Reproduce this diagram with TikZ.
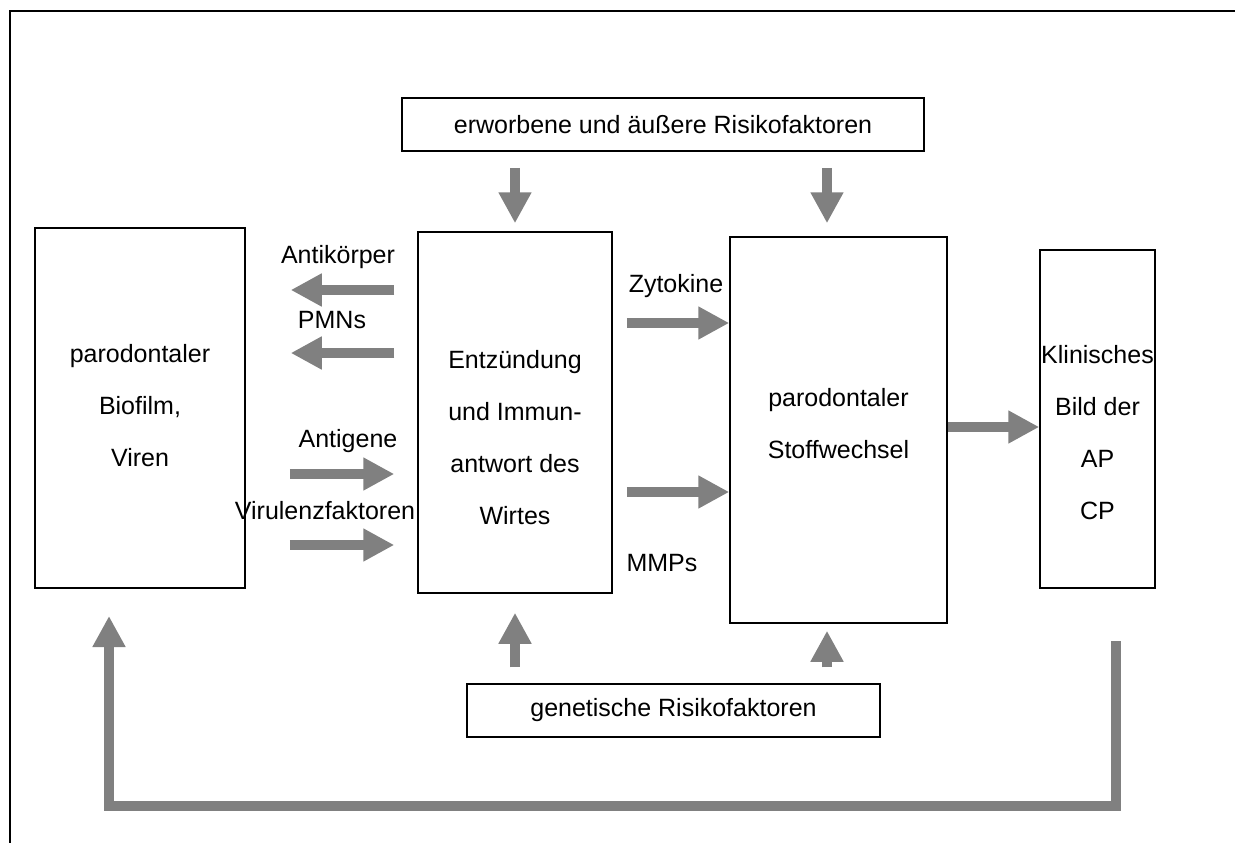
\documentclass[tikz,border=0pt]{standalone}
\usepackage{fontspec}
\setmainfont{Liberation Sans}
\usetikzlibrary{arrows.meta}

\tikzset{
  box/.style={draw, line width=1.5pt, inner sep=0pt, align=center},
  fat/.style={draw=gray, line width=10pt, line join=miter, -{Triangle[width=31pt,length=31pt]}},
  lbl/.style={inner sep=0pt, align=center},
}

\begin{document}
\begin{tikzpicture}[x=1pt, y=-1pt, font=\fontsize{25}{52}\selectfont]
	\useasboundingbox (0,0) rectangle (1235,843);
	\draw[line width=2pt] (1235,11) -- (10,11) -- (10,843);

	% Kaesten
	\node[box, minimum width=210pt, minimum height=360pt] (bio) at (140,408) {};
	\node[box, minimum width=194pt, minimum height=361pt] (entz) at (515,412.5) {};
	\node[box, minimum width=217pt, minimum height=386pt] (stoff) at (838.5,430) {};
	\node[box, minimum width=115pt, minimum height=338pt] (klin) at (1097.5,419) {};
	\node[box, minimum width=522pt, minimum height=53pt] (risk) at (663,124.5) {erworbene und äußere Risikofaktoren};
	\node[box, minimum width=413pt, minimum height=53pt] (gen) at (673.5,710.5) {genetische Risikofaktoren};

	\node[lbl] (biotext) at (140,406) {parodontaler\\Biofilm,\\Viren};
	\node[lbl] (entztext) at (515,438) {Entzündung\\und Immun-\\antwort des\\Wirtes};
	\node[lbl] (stofftext) at (838.5,424) {parodontaler\\Stoffwechsel};
	\node[lbl] (klintext) at (1097.5,433) {Klinisches\\Bild der\\AP\\CP};

	% Pfeile links
	\draw[fat, shorten <=23pt, shorten >=45pt] (entz.west |- 0,290) -- (bio.east |- 0,290);
	\draw[fat, shorten <=23pt, shorten >=45pt] (entz.west |- 0,353) -- (bio.east |- 0,353);
	\draw[fat, shorten <=44pt, shorten >=23pt] (bio.east |- 0,474) -- (entz.west |- 0,474);
	\draw[fat, shorten <=44pt, shorten >=23pt] (bio.east |- 0,545) -- (entz.west |- 0,545);
	\node[lbl] (antik) at (338,257) {Antikörper};
	\node[lbl] (pmn) at (332,320) {PMNs};
	\node[lbl] (antig) at (348,441) {Antigene};
	\node[lbl] (virul) at (325,511) {Virulenzfaktoren};

	% Pfeile Mitte
	\draw[fat, shorten <=14pt] (entz.east |- 0,323) -- (stoff.west |- 0,323);
	\draw[fat, shorten <=14pt] (entz.east |- 0,492) -- (stoff.west |- 0,492);
	\node[lbl] (zyto) at (676,286) {Zytokine};
	\node[lbl] (mmp) at (662,563) {MMPs};
	\draw[fat] (stoff.east |- 0,427) -- (klin.west |- 0,427);

	% Risikofaktoren
	\draw[fat, shorten <=16pt, shorten >=8pt] (risk.south -| entz.north) -- (entz.north);
	\draw[fat, shorten <=16pt, shorten >=13pt] (risk.south -| 827,0) -- (stoff.north -| 827,0);
	\draw[fat, shorten <=16pt, shorten >=19pt] (gen.north -| entz.south) -- (entz.south);
	\draw[fat, shorten <=16pt, shorten >=7pt] (gen.north -| 827,0) -- (stoff.south -| 827,0);

	% Rueckkopplung
	\coordinate (fbtop) at (1116,641);
	\coordinate (fbend) at (109,616);
	\draw[fat] (fbtop) |- (fbend |- 0,806) -- (fbend);
\end{tikzpicture}
\end{document}
